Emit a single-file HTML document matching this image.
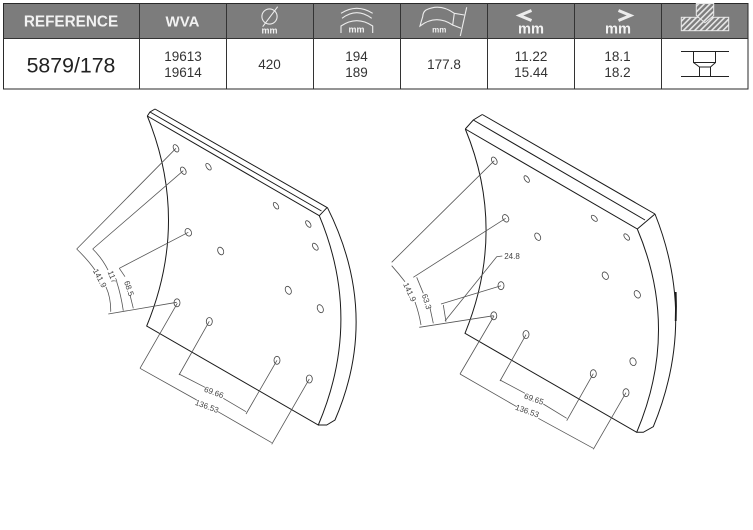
<!DOCTYPE html>
<html><head><meta charset="utf-8"><style>
html,body{margin:0;padding:0;background:#fff;width:753px;height:530px;overflow:hidden}
svg{display:block;font-family:"Liberation Sans",sans-serif;filter:blur(.3px)}
</style></head><body>
<svg width="753" height="530" viewBox="0 0 753 530" xmlns="http://www.w3.org/2000/svg">
<defs><pattern id="h" width="4" height="4" patternUnits="userSpaceOnUse" patternTransform="rotate(45)"><rect width="4" height="4" fill="#7d7d7d"/><rect width="1.6" height="4" fill="#e8e8e8"/></pattern></defs>
<rect x="3.5" y="3.5" width="744.5" height="35" fill="#7c7c7c"/>
<g fill="none" stroke="#2a2a2a" stroke-width="1">
<rect x="3.5" y="3.5" width="744.5" height="85.5"/>
<path d="M3.5 38.5H748M139.5 3.5V89M226.5 3.5V89M313.5 3.5V89M400.5 3.5V89M487.5 3.5V89M574.5 3.5V89M661.5 3.5V89" stroke="#333"/>
</g>
<g fill="#f2f2f2" font-weight="bold" text-anchor="middle">
<text x="71" y="26.5" font-size="15.3">REFERENCE</text>
<text x="182.5" y="26.5" font-size="15">WVA</text>
<text x="269.5" y="33.5" font-size="9">mm</text>
<text x="356.5" y="32.5" font-size="9">mm</text>
<text x="439.3" y="32.5" font-size="8">mm</text>
<text x="531" y="33.5" font-size="14.6">mm</text>
<text x="618" y="33.5" font-size="14.6">mm</text>
</g>
<g fill="none" stroke="#ececec" stroke-width="1.1">
<circle cx="269.5" cy="16.5" r="7.6"/><path d="M262.7 26.7L277.7 6.7"/>
<path d="M341 13.3Q356.7 3.3 372.7 13.3M342 18.3Q356.7 7 371.7 18.3M341 33V26Q356.7 15.4 372.7 26V33"/>
<path d="M420 26Q421 22 422.7 16.7Q423 12 426 10Q440 3 454.3 13.3L452.7 25Q436 14 420 26ZM454.3 13.3L464.3 15M452.7 25L461 28.3M466.7 7.3L460.3 36"/>
<path d="M531.5 10.5L519.5 15.5L531.5 20.5" stroke-width="3"/>
<path d="M618.5 10.5L630.5 15.5L618.5 20.5" stroke-width="3"/>
</g>
<rect x="681.3" y="17.3" width="47.4" height="13.4" fill="url(#h)" stroke="#e8e8e8" stroke-width="1"/>
<path d="M696.3 3.5H713.7V15.5L705 22.7L696.3 15.5Z" fill="url(#h)" stroke="#e8e8e8" stroke-width="1"/>
<g fill="#333" text-anchor="middle">
<text x="71" y="72.5" font-size="21.3" fill="#222">5879/178</text>
<g font-size="13.5">
<text x="183" y="61">19613</text><text x="183" y="77">19614</text>
<text x="269.5" y="69">420</text>
<text x="356.5" y="61">194</text><text x="356.5" y="77">189</text>
<text x="444" y="69">177.8</text>
<text x="531" y="61">11.22</text><text x="531" y="77">15.44</text>
<text x="617.5" y="61">18.1</text><text x="617.5" y="77">18.2</text>
</g></g>
<path d="M681 51.5H729M681 76.5H729M693.5 51.5V62.5H715.5V51.5M693.5 62.5L699.5 67H710.5L715.5 62.5M699.5 67V76.5M710.5 67V76.5" fill="none" stroke="#222" stroke-width="1"/>

<!-- left pad -->
<g fill="none" stroke="#1a1a1a" stroke-width="1">
<path d="M155 109L326.7 207.3M150 112L321.5 211M147.3 116L319.3 215.7M147.3 116L150 112L155 109M327.3 207.3L319.3 215.7"/>
<path d="M147.3 116Q190 221 146.7 326L318.3 425Q363 320 319.3 215.7M327.3 207.3Q380.8 314 335 420L326.7 425H318.3"/>
</g>
<g fill="none" stroke="#444" stroke-width=".8">
<ellipse cx="176" cy="148.3" rx="2.4" ry="4" transform="rotate(-30 176 148.3)"/>
<ellipse cx="183.3" cy="170.7" rx="2.4" ry="4" transform="rotate(-30 183.3 170.7)"/>
<ellipse cx="188.3" cy="232.3" rx="3" ry="4" transform="rotate(-30 188.3 232.3)"/>
<ellipse cx="177" cy="302.8" rx="3" ry="4"/>
<ellipse cx="209.3" cy="321.5" rx="3" ry="4"/>
<ellipse cx="277" cy="360.3" rx="3" ry="4"/>
<ellipse cx="309.3" cy="379" rx="3" ry="4"/>
<ellipse cx="208.5" cy="166.7" rx="2" ry="3.8" transform="rotate(-35 208.5 166.7)"/>
<ellipse cx="220.7" cy="251" rx="2.8" ry="4" transform="rotate(-25 220.7 251)"/>
<ellipse cx="276" cy="205.7" rx="2" ry="3.8" transform="rotate(-35 276 205.7)"/>
<ellipse cx="308.3" cy="224" rx="2" ry="3.8" transform="rotate(-35 308.3 224)"/>
<ellipse cx="315.3" cy="246.7" rx="2.2" ry="4" transform="rotate(-35 315.3 246.7)"/>
<ellipse cx="288.3" cy="290.3" rx="2.8" ry="4.2" transform="rotate(-25 288.3 290.3)"/>
<ellipse cx="320.3" cy="308.7" rx="2.8" ry="4.2" transform="rotate(-25 320.3 308.7)"/>
</g>
<g fill="none" stroke="#555" stroke-width=".8">
<path d="M176 148.3L76.7 249M183.3 170.7L92.7 249M188.3 232.3L119.3 268.3M176.7 302.3L108.3 314"/>
<path d="M76.7 249Q88 260 95 270M106 287Q111 298 110.7 311.7M92.7 249Q102 258 108 270M116.7 281.7Q121 295 123.3 310.7M119.3 268.3L125 276.7M130 295L133.3 308.3"/>
<path d="M177.3 303.3L140 368.3M209.3 321.3L179 375M277 360.3L246 414M309.3 379L271.7 444.3"/>
<path d="M140 368.3L196.7 400M218 411.7L271.7 442.7M179 374L205 387.3M223.3 398.3L246 411.7"/>
</g>
<g fill="#444" font-size="8" text-anchor="middle">
<text transform="translate(100 278) rotate(62)" y="3">141.9</text>
<text transform="translate(112.7 276.7) rotate(68)" y="3">117</text>
<text transform="translate(129.3 288.3) rotate(72)" y="3">68.5</text>
<text transform="translate(214 392) rotate(20)" y="3">69.66</text>
<text transform="translate(207 406) rotate(20)" y="3">136.53</text>
</g>

<!-- right pad -->
<g fill="none" stroke="#1a1a1a" stroke-width="1">
<path d="M482.3 114.5L655 214M473.3 120L645 220M465.3 129L637.3 229M465.3 129L473.3 120L482.3 114.5M655 214L637.3 229"/>
<path d="M465.3 129Q507 230 465 333.3L636.7 432.3Q680 330 637.3 229M655 214Q697.3 320 653.3 426.7L643.3 432.3H636.7"/>
<path d="M675.7 292Q676.3 306 675.7 321" stroke-width="1.8"/>
</g>
<g fill="none" stroke="#444" stroke-width=".8">
<ellipse cx="494.3" cy="160.7" rx="2.4" ry="4" transform="rotate(-30 494.3 160.7)"/>
<ellipse cx="505.7" cy="218.3" rx="2.8" ry="4" transform="rotate(-30 505.7 218.3)"/>
<ellipse cx="501" cy="285.7" rx="3" ry="4"/>
<ellipse cx="493.8" cy="315.8" rx="3" ry="4"/>
<ellipse cx="526" cy="334.5" rx="3" ry="4"/>
<ellipse cx="593.3" cy="373.7" rx="3" ry="4"/>
<ellipse cx="626" cy="392.7" rx="3" ry="4"/>
<ellipse cx="633" cy="361.7" rx="3" ry="4" transform="rotate(-20 633 361.7)"/>
<ellipse cx="526.7" cy="179" rx="2" ry="3.8" transform="rotate(-35 526.7 179)"/>
<ellipse cx="537.7" cy="236.7" rx="2.6" ry="4" transform="rotate(-30 537.7 236.7)"/>
<ellipse cx="594.3" cy="218.3" rx="2" ry="3.8" transform="rotate(-45 594.3 218.3)"/>
<ellipse cx="626.7" cy="237" rx="2" ry="3.8" transform="rotate(-40 626.7 237)"/>
<ellipse cx="605.3" cy="275.7" rx="2.8" ry="4" transform="rotate(-30 605.3 275.7)"/>
<ellipse cx="637.3" cy="294.3" rx="2.8" ry="4" transform="rotate(-30 637.3 294.3)"/>
</g>
<g fill="none" stroke="#555" stroke-width=".8">
<path d="M494.3 160.7L391.7 262.3M505.7 218.3L413.3 277.3M501 285.7L441 304M493.7 315.7L419.3 327.3"/>
<path d="M445 321L496.7 256.7L502.3 256M443.3 305L446 321.7"/>
<path d="M391.7 265.7Q399 274 405 281.7M415 302Q419 313 421 325M416.7 277.3L423.3 293.3M430 308L433.3 323.3"/>
<path d="M494 316L460 374M526 334.7L500 381M593.3 373.7L566.7 420.7M626 392.7L593.3 449.3"/>
<path d="M460 374L516.7 406.7M538.3 418.3L593.3 448.3M500 380L525 393.3M543.3 404L566.7 418.3"/>
</g>
<g fill="#444" font-size="8" text-anchor="middle">
<text x="512" y="259">24.8</text>
<text transform="translate(410 292) rotate(65)" y="3">141.9</text>
<text transform="translate(427 301.5) rotate(72)" y="3">63.3</text>
<text transform="translate(534 398.7) rotate(20)" y="3">69.65</text>
<text transform="translate(527.3 410.7) rotate(20)" y="3">136.53</text>
</g>
</svg>
</body></html>
